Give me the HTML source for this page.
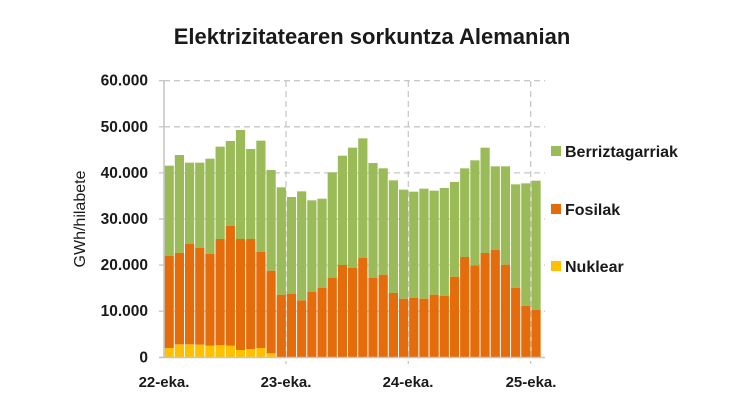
<!DOCTYPE html>
<html><head><meta charset="utf-8"><style>
body{margin:0;background:#fff;}
svg text{font-family:"Liberation Sans",sans-serif;fill:#1a1a1a;}
</style></head><body>
<svg width="750" height="400" xmlns="http://www.w3.org/2000/svg" id="c">
<text x="372" y="44" font-size="22" font-weight="bold" text-anchor="middle">Elektrizitatearen sorkuntza Alemanian</text>
<g id="grid" stroke="#c8c8c8" stroke-width="1.3" stroke-dasharray="6,4" fill="none"></g>
<g id="bars"></g>
<g stroke="#c4c4c4" stroke-width="1.5">
<line x1="164" y1="80" x2="164" y2="358"/>
<line x1="159" y1="357.5" x2="545" y2="357.5"/>
</g>
<g id="ylab" font-size="15.5" font-weight="bold" text-anchor="end"></g>
<text transform="translate(85,219) rotate(-90)" font-size="16" text-anchor="middle">GWh/hilabete</text>
<g font-size="15" font-weight="bold" text-anchor="middle">
<text x="164" y="387">22-eka.</text>
<text x="286" y="387">23-eka.</text>
<text x="408" y="387">24-eka.</text>
<text x="531" y="387">25-eka.</text>
</g>
<g font-size="16" font-weight="bold">
<rect x="551" y="146" width="10" height="10" fill="#9bbb59"/><text x="565" y="157">Berriztagarriak</text>
<rect x="551" y="204" width="10" height="10" fill="#e46c0a"/><text x="565" y="215">Fosilak</text>
<rect x="551" y="261" width="10" height="10" fill="#ffc000"/><text x="565" y="272">Nuklear</text>
</g>
</svg>
<script>
var NS="http://www.w3.org/2000/svg";
function el(p,t,a){var e=document.createElementNS(NS,t);for(var k in a)e.setAttribute(k,a[k]);p.appendChild(e);return e;}
var g=document.getElementById('grid'),b=document.getElementById('bars'),yl=document.getElementById('ylab');
for(var i=0;i<=6;i++){var y=357.3-i*46.1;
 if(i>0)el(g,'line',{x1:164,y1:y,x2:545,y2:y});
 el(document.getElementById('c'),'line',{x1:159,y1:y,x2:164,y2:y,stroke:'#c4c4c4','stroke-width':1.3});
 var t=el(yl,'text',{x:148,y:y+5});t.textContent=i==0?'0':(i*10)+'.000';}
[286,408.3,530.7].forEach(function(x){el(g,'line',{x1:x,y1:81,x2:x,y2:364});});
var tot=[287,255,278,278,266,230,213,180,237,212,300,352,381,364,391,386,307,257,233,205,279,295,331,359,365,356,362,354,336,295,271,233,289,289,343,340,332];
var fos=[557,548,522,533,551,507,467,507,507,546,602,674,671,691,666,653,623,585,593,564,624,614,669,686,683,686,674,677,620,561,586,549,540,584,653,707,719];
var nuc=[834,823,823,824,827,826,827,840,837,834,850];
function Y(z){return 70+z/3;}
for(var i=0;i<tot.length;i++){
 var x=164.6+i*10.19,w=9.2,bot=357.3;
 var n=i<nuc.length?Y(nuc[i]):bot;
 if(i<nuc.length)el(b,'rect',{x:x,y:n,width:w,height:bot-n,fill:'#ffc000'});
 el(b,'rect',{x:x,y:Y(fos[i]),width:w,height:n-Y(fos[i]),fill:'#e46c0a'});
 el(b,'rect',{x:x,y:Y(tot[i]),width:w,height:Y(fos[i])-Y(tot[i]),fill:'#9bbb59'});
}
</script>
</body></html>
